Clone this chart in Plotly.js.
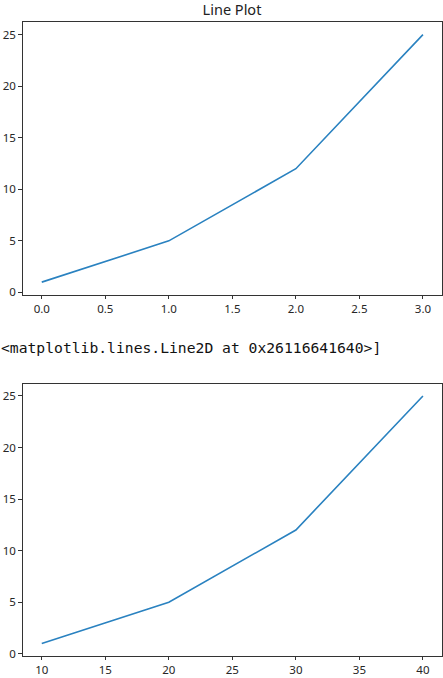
<!DOCTYPE html>
<html>
<head>
<meta charset="utf-8">
<script src="https://cdn.plot.ly/plotly-3.0.1.min.js"></script>
<style>html,body{margin:0;padding:0;background:#fff;}#chart{width:443px;height:678px;}</style>
</head>
<body>
<div id="chart"></div>
<script>
// Data
const xTop = [0, 1, 2, 3];
const xBottom = [10, 20, 30, 40];
const yValues = [1, 5, 12, 25];
const titleText = "Line Plot";
const outputText = "<matplotlib.lines.Line2D at 0x26116641640>]";

const lineColor = "#2a82c0";
const axisColor = "#333333";
const tickFont = {family: "Noto Sans, DejaVu Sans, sans-serif", size: 11.5, color: "#262626"};

const traces = [
  {x: xTop, y: yValues, type: "scatter", mode: "lines", line: {color: lineColor, width: 1.6}, xaxis: "x", yaxis: "y", hoverinfo: "none"},
  {x: xBottom, y: yValues, type: "scatter", mode: "lines", line: {color: lineColor, width: 1.6}, xaxis: "x2", yaxis: "y2", hoverinfo: "none"}
];

const xDom = [22.7/443, 442/443];
const topDom = [1 - 294.5/678, 1 - 22.3/678];
const botDom = [1 - 655.8/678, 1 - 383.6/678];

function ax(extra) {
  return Object.assign({
    showgrid: false, zeroline: false, showline: true, mirror: true,
    linecolor: axisColor, linewidth: 1, ticks: "outside", ticklen: 3.5,
    tickcolor: axisColor, tickwidth: 1, tickfont: tickFont, fixedrange: true
  }, extra);
}

const layout = {
  width: 443, height: 678,
  margin: {l: 0, r: 0, t: 0, b: 0},
  paper_bgcolor: "#fff", plot_bgcolor: "#fff",
  showlegend: false,
  title: {text: titleText, font: {family: "Noto Sans, DejaVu Sans, sans-serif", size: 14.5, color: "#222"}, x: 232/443, xanchor: "center", y: 1 - 10/678, yanchor: "middle", xref: "paper", yref: "paper"},
  xaxis: ax({domain: xDom, anchor: "y", range: [-0.15, 3.15], tick0: 0, dtick: 0.5, tickformat: ".1f"}),
  yaxis: ax({domain: topDom, anchor: "x", range: [-0.2, 26.2], tick0: 0, dtick: 5}),
  xaxis2: ax({domain: xDom, anchor: "y2", range: [8.5, 41.5], tick0: 10, dtick: 5}),
  yaxis2: ax({domain: botDom, anchor: "x2", range: [-0.2, 26.2], tick0: 0, dtick: 5}),
  annotations: [{
    text: outputText.replace(/</g, "&lt;").replace(/>/g, "&gt;"),
    xref: "paper", yref: "paper", x: -0.003, xanchor: "left", y: 1 - 347/678, yanchor: "middle",
    showarrow: false, font: {family: "DejaVu Sans Mono, monospace", size: 14.7, color: "#111"}
  }]
};

Plotly.newPlot("chart", traces, layout, {displayModeBar: false, staticPlot: true});
</script>
</body>
</html>
